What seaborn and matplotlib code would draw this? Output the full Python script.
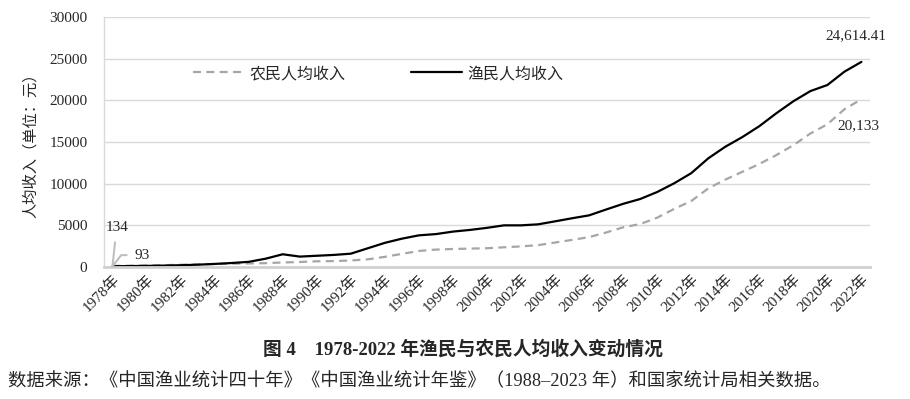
import matplotlib
matplotlib.use("Agg")
import matplotlib.pyplot as plt
import seaborn as sns
import pandas as pd

# 数据：1978-2022 年农民与渔民人均收入（元）
years = list(range(1978, 2023))
farmer_income = [
    133.6, 160.2, 191.3, 223.4, 270.1, 309.8, 355.3, 397.6, 423.8, 462.6,
    544.9, 601.5, 686.3, 708.6, 784.0, 921.6, 1221.0, 1577.7, 1926.1, 2090.1,
    2162.0, 2210.3, 2253.4, 2366.4, 2475.6, 2622.2, 2936.4, 3254.9, 3587.0, 4140.4,
    4760.6, 5153.2, 5919.0, 6977.3, 7916.6, 9429.6, 10489, 11422, 12363, 13432,
    14617, 16021, 17131, 18931, 20133,
]
fisher_income = [
    93, 110, 135, 170, 215, 280, 370, 480, 620, 1000,
    1530, 1250, 1350, 1450, 1600, 2250, 2900, 3400, 3800, 3950,
    4250, 4450, 4700, 5000, 5000, 5120, 5480, 5850, 6200, 6900,
    7580, 8160, 9000, 10050, 11260, 13040, 14430, 15590, 16900, 18450,
    19890, 21110, 21840, 23440, 24614.41,
]
year_labels = [f"{y}年" for y in years]
y_ticks = [0, 5000, 10000, 15000, 20000, 25000, 30000]

df = pd.DataFrame({
    "pos": range(len(years)),
    "farmer": farmer_income,
    "fisher": fisher_income,
})

sns.set_style("white")
fonts = ["Liberation Serif", "Noto Sans CJK SC"]
plt.rcParams["font.family"] = fonts
plt.rcParams["axes.unicode_minus"] = False

fig = plt.figure(figsize=(9.1, 3.99), dpi=100)
ax = fig.add_axes([0.1143, 0.3308, 0.8417, 0.6266])

sns.lineplot(data=df, x="pos", y="farmer", ax=ax, color="#A6A6A6",
             linewidth=1.6, label="农民人均收入")
ax.lines[-1].set_dashes((3.6, 2.4))
sns.lineplot(data=df, x="pos", y="fisher", ax=ax, color="black",
             linewidth=1.6, label="渔民人均收入")

# 坐标轴
ax.set_xlim(-0.5, len(years) - 0.5)
ax.set_ylim(0, 30000)
ax.set_yticks(y_ticks)
ax.set_yticklabels([str(v) for v in y_ticks], fontsize=11)
ax.set_xticks(range(0, len(years), 2))
ax.set_xticklabels(year_labels[::2], rotation=45, ha="right",
                   rotation_mode="anchor", fontsize=11)
ax.tick_params(axis="both", length=0)
ax.tick_params(axis="y", pad=12)
ax.tick_params(axis="x", pad=4)
ax.set_xlabel("")
ax.set_ylabel("人均收入（单位：元）", fontsize=11, labelpad=8)
ax.grid(axis="y", color="#D9D9D9", linewidth=1)
ax.set_axisbelow(True)
for s in ["top", "right"]:
    ax.spines[s].set_visible(False)
ax.spines["left"].set_color("#D9D9D9")
ax.spines["left"].set_linewidth(1)
ax.spines["bottom"].set_color("#D0D0D0")
ax.spines["bottom"].set_linewidth(2)

# 图例
leg = ax.legend(loc="center left", ncol=2, frameon=False,
                fontsize=11.5, handlelength=3.2, handletextpad=0.35,
                columnspacing=4.1, borderpad=0, borderaxespad=0)
leg.set_bbox_to_anchor((193 / 910, 1 - 74 / 399), transform=fig.transFigure)

# 数据标签
ax.annotate("134", xy=(0, farmer_income[0]), xytext=(3, 28),
            textcoords="offset points", ha="center", va="center", fontsize=11,
            arrowprops=dict(arrowstyle="-", color="#BFBFBF", lw=1.5,
                            shrinkA=4, shrinkB=0))
ax.annotate("93", xy=(0, fisher_income[0]), xytext=(21, 8),
            textcoords="offset points", ha="center", va="center", fontsize=11,
            arrowprops=dict(arrowstyle="-", color="#BFBFBF", lw=1.5,
                            shrinkA=3, shrinkB=0,
                            connectionstyle="angle,angleA=0,angleB=52,rad=0"))
ax.annotate("24,614.41", xy=(len(years) - 1, fisher_income[-1]), xytext=(-4, 19),
            textcoords="offset points", ha="center", va="center", fontsize=11)
ax.annotate("20,133", xy=(len(years) - 1, farmer_income[-1]), xytext=(-2, -19),
            textcoords="offset points", ha="center", va="center", fontsize=11)

# 图题与来源
fig.text(0.509, 1 - 349 / 399, "图 4　1978-2022 年渔民与农民人均收入变动情况",
         ha="center", va="center", fontsize=13.5, fontweight="bold")
fig.text(0.009, 1 - 381 / 399,
         "数据来源：《中国渔业统计四十年》《中国渔业统计年鉴》（1988–2023 年）和国家统计局相关数据。",
         ha="left", va="center", fontsize=13.2)

fig.savefig("out.png", dpi=100)
